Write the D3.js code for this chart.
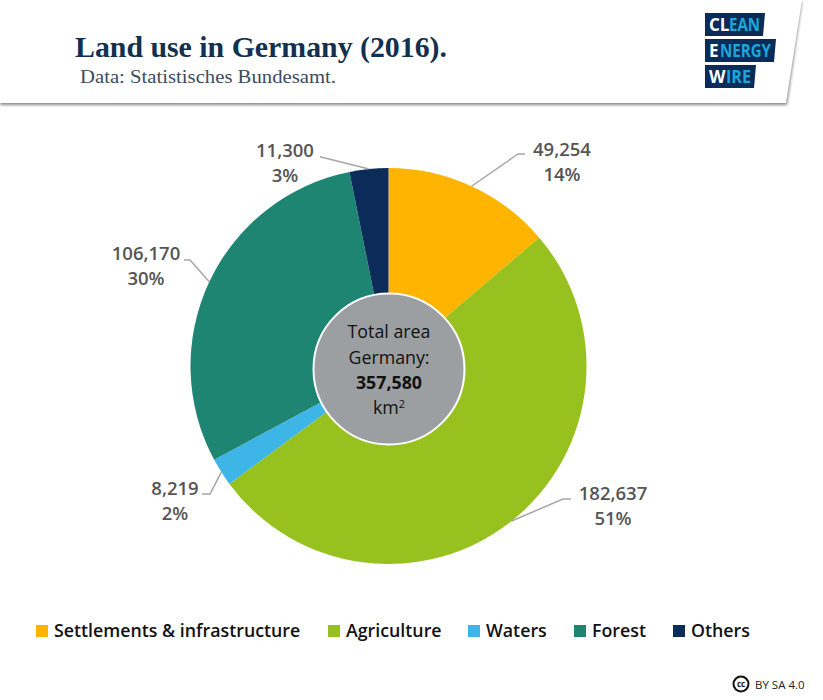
<!DOCTYPE html>
<html lang="en">
  <head>
    <meta charset="UTF-8" />
    <title>Land use in Germany (2016)</title>
    <script src="https://d3js.org/d3.v7.min.js"></script>
    <style>
      html, body { margin: 0; padding: 0; background: #fff; }
      svg { display: block; }
    </style>
  </head>
  <body>
    <div id="chart"></div>
    <script>
      const categories = ['Settlements & infrastructure', 'Agriculture', 'Waters', 'Forest', 'Others'];
      const areas = [49254, 182637, 8219, 106170, 11300];
      const shares = ['14%', '51%', '2%', '30%', '3%'];
      const colors = ['#ffb400', '#97c11f', '#3db5e6', '#1f8573', '#0b2c58'];
      const totalArea = 357580;

      const width = 823;
      const height = 700;
      const cx = 388.5;
      const cy = 366;
      const radius = 198;
      const sans = "'Open Sans', 'Noto Sans', sans-serif";
      const serif = "'Liberation Serif', 'DejaVu Serif', serif";
      const narrow = "'Liberation Sans Narrow', 'Open Sans', sans-serif";

      // label layout, same order as categories: elbow of leader line, tip next to text, text centre
      const labelLayout = [
        { elbow: [518, 154], tip: [525, 154], tx: 562, ty: 156 },
        { elbow: [563, 499], tip: [571, 499], tx: 613, ty: 500 },
        { elbow: [210, 494], tip: [202, 494], tx: 175, ty: 495 },
        { elbow: [190, 260], tip: [184, 260], tx: 146, ty: 260 },
        { elbow: [321, 157], tip: [320, 157], tx: 285, ty: 157 }
      ];

      const svg = d3.select('#chart').append('svg').attr('width', width).attr('height', height);

      const defs = svg.append('defs');
      const blur = defs.append('filter').attr('id', 'shadow').attr('x', '-5%').attr('y', '-5%').attr('width', '110%').attr('height', '120%');
      blur.append('feGaussianBlur').attr('stdDeviation', 1.5);

      // header card, slanted right edge with a soft shadow
      svg.append('path').attr('d', 'M0,1 L802,1 L787,105 L0,105 Z').attr('fill', '#8a8a8a').attr('filter', 'url(#shadow)');
      svg.append('path').attr('d', 'M0,0 L802,0 L786,103 L0,103 Z').attr('fill', '#fff');

      svg.append('text').attr('x', 75).attr('y', 57)
        .style('font', `bold 29px ${serif}`).attr('fill', '#12304f')
        .attr('textLength', 372).attr('lengthAdjust', 'spacingAndGlyphs')
        .text('Land use in Germany (2016).');
      svg.append('text').attr('x', 80).attr('y', 83)
        .style('font', `19px ${serif}`).attr('fill', '#3c4c5e')
        .attr('textLength', 256).attr('lengthAdjust', 'spacingAndGlyphs')
        .text('Data: Statistisches Bundesamt.');

      // logo, white first letters and blue rest set as two texts side by side
      const logoRows = [
        { head: 'CL', rest: 'EAN', y: 13, w: 60, headW: 20 },
        { head: 'E', rest: 'NERGY', y: 39, w: 71, headW: 11 },
        { head: 'W', rest: 'IRE', y: 65, w: 51, headW: 17 }
      ];
      const logo = svg.append('g').attr('transform', 'translate(705,0)');
      logoRows.forEach((r) => {
        logo.append('path').attr('d', `M0,${r.y} h${r.w} l-2,23 h-${r.w - 2} Z`).attr('fill', '#0b2c58');
        logo.append('text').attr('x', 4).attr('y', r.y + 18)
          .style('font', `bold 17px ${narrow}`).attr('fill', '#fff')
          .text(r.head);
        logo.append('text').attr('x', 4 + r.headW).attr('y', r.y + 18)
          .style('font', `bold 17px ${narrow}`).attr('fill', '#1ba6dc')
          .attr('textLength', r.w - 9 - r.headW).attr('lengthAdjust', 'spacingAndGlyphs')
          .text(r.rest);
      });

      // pie
      const pie = d3.pie().sort(null).value((d) => d)(areas);
      const arc = d3.arc().innerRadius(0).outerRadius(radius);
      const plot = svg.append('g').attr('transform', `translate(${cx},${cy})`);
      plot.selectAll('path').data(pie).enter().append('path')
        .attr('d', arc)
        .attr('fill', (d, i) => colors[i]);

      // leader lines start on the rim at each slice's mid angle
      const rim = d3.arc().innerRadius(radius).outerRadius(radius);
      const leader = d3.line();
      svg.selectAll('path.leader').data(pie).enter().append('path')
        .attr('class', 'leader')
        .attr('fill', 'none')
        .attr('stroke', '#a6a6a6')
        .attr('stroke-width', 1.5)
        .attr('d', (d, i) => {
          const [x, y] = rim.centroid(d);
          return leader([[x + cx, y + cy], labelLayout[i].elbow, labelLayout[i].tip]);
        });

      const format = d3.format(',');
      labelLayout.forEach((l, i) => {
        const t = svg.append('text').attr('text-anchor', 'middle')
          .style('font', `600 18.5px ${sans}`).attr('fill', '#555');
        t.append('tspan').attr('x', l.tx).attr('y', l.ty).text(format(areas[i]));
        t.append('tspan').attr('x', l.tx).attr('y', l.ty + 25).text(shares[i]);
      });

      // centre disc
      svg.append('circle').attr('cx', 389).attr('cy', 369).attr('r', 75.5)
        .attr('fill', '#9c9fa1').attr('stroke', '#fff').attr('stroke-width', 2);
      const centre = svg.append('g').attr('text-anchor', 'middle').attr('fill', '#111');
      centre.append('text').attr('x', 389).attr('y', 338).style('font', `17.8px ${sans}`).text('Total area');
      centre.append('text').attr('x', 389).attr('y', 364).style('font', `17.8px ${sans}`).text('Germany:');
      centre.append('text').attr('x', 389).attr('y', 389).style('font', `bold 17.8px ${sans}`).text(format(totalArea));
      const km = centre.append('text').attr('x', 389).attr('y', 414).style('font', `17.8px ${sans}`).text('km');
      km.append('tspan').attr('dy', -6).style('font-size', '11px').text('2');

      // legend
      const legendX = [36, 328, 468, 574, 673];
      const legend = svg.selectAll('g.legend').data(categories).enter().append('g')
        .attr('class', 'legend')
        .attr('transform', (d, i) => `translate(${legendX[i]},625)`);
      legend.append('rect').attr('width', 12).attr('height', 12).attr('fill', (d, i) => colors[i]);
      legend.append('text').attr('x', 18).attr('y', 12)
        .style('font', `600 17.8px ${sans}`).attr('fill', '#111')
        .text((d) => d);

      // licence mark
      svg.append('circle').attr('cx', 741).attr('cy', 684).attr('r', 7.5).attr('fill', 'none').attr('stroke', '#111').attr('stroke-width', 2);
      svg.append('text').attr('x', 741).attr('y', 687).attr('text-anchor', 'middle')
        .style('font', `bold 8px ${sans}`).attr('fill', '#111').text('cc');
      svg.append('text').attr('x', 755).attr('y', 689)
        .style('font', `11.5px ${sans}`).attr('fill', '#222').text('BY SA 4.0');
    </script>
  </body>
</html>
